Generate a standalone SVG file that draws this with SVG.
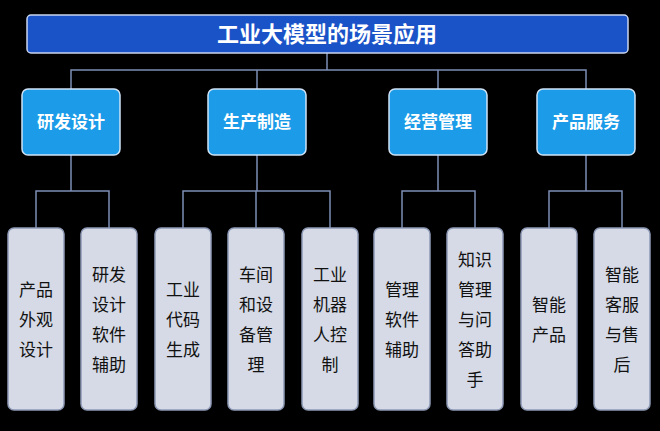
<svg xmlns="http://www.w3.org/2000/svg" width="660" height="431" viewBox="0 0 660 431">
<style>
text{font-family:"Noto Sans CJK SC","Liberation Sans",sans-serif;text-anchor:middle}
.mid rect{fill:#1b9be8;stroke:#cfe3f7;stroke-width:1.5}
.mid text{fill:#fff;font-size:17px;font-weight:bold}
.leaf rect{fill:#d5dae6;stroke:#8d99b5;stroke-width:1.5}
.leaf text{fill:#111;font-size:17px}
#conn path{fill:none;stroke:#7d8fb5;stroke-width:1.5}
</style>
<rect width="660" height="431" fill="#000"/>
<g id="conn">
<path d="M327 53V70M71 89V70H586V89M257 70V89M438 70V89"/>
<path d="M71 155V191M36 228V191H109V228"/>
<path d="M257 155V191M183 228V191H330V228M256 191V228"/>
<path d="M438 155V191M402 228V191H475V228"/>
<path d="M586 155V191M549 228V191H622V228"/>
</g>
<g id="title"><rect x="27" y="15" width="601" height="38" rx="4" fill="#1a52c8" stroke="#c9d6ee" stroke-width="1.5"/>
<text x="327" y="42" fill="#fff" font-size="22" font-weight="bold">工业大模型的场景应用</text></g>
<g id="m1" class="mid"><rect x="22" y="89" width="98" height="66" rx="6"/><text x="71" y="128">研发设计</text></g>
<g id="m2" class="mid"><rect x="208" y="89" width="98" height="66" rx="6"/><text x="257" y="128">生产制造</text></g>
<g id="m3" class="mid"><rect x="389" y="89" width="98" height="66" rx="6"/><text x="438" y="128">经营管理</text></g>
<g id="m4" class="mid"><rect x="537" y="89" width="98" height="66" rx="6"/><text x="586" y="128">产品服务</text></g>
<g id="l1" class="leaf"><rect x="8" y="228" width="56" height="182" rx="6"/><text x="36" y="296">产品</text><text x="36" y="326">外观</text><text x="36" y="356">设计</text></g>
<g id="l2" class="leaf"><rect x="81" y="228" width="56" height="182" rx="6"/><text x="109" y="281">研发</text><text x="109" y="311">设计</text><text x="109" y="341">软件</text><text x="109" y="371">辅助</text></g>
<g id="l3" class="leaf"><rect x="155" y="228" width="56" height="182" rx="6"/><text x="183" y="296">工业</text><text x="183" y="326">代码</text><text x="183" y="356">生成</text></g>
<g id="l4" class="leaf"><rect x="228" y="228" width="56" height="182" rx="6"/><text x="256" y="281">车间</text><text x="256" y="311">和设</text><text x="256" y="341">备管</text><text x="256" y="371">理</text></g>
<g id="l5" class="leaf"><rect x="302" y="228" width="56" height="182" rx="6"/><text x="330" y="281">工业</text><text x="330" y="311">机器</text><text x="330" y="341">人控</text><text x="330" y="371">制</text></g>
<g id="l6" class="leaf"><rect x="374" y="228" width="56" height="182" rx="6"/><text x="402" y="296">管理</text><text x="402" y="326">软件</text><text x="402" y="356">辅助</text></g>
<g id="l7" class="leaf"><rect x="447" y="228" width="56" height="182" rx="6"/><text x="475" y="266">知识</text><text x="475" y="296">管理</text><text x="475" y="326">与问</text><text x="475" y="356">答助</text><text x="475" y="386">手</text></g>
<g id="l8" class="leaf"><rect x="521" y="228" width="56" height="182" rx="6"/><text x="549" y="311">智能</text><text x="549" y="341">产品</text></g>
<g id="l9" class="leaf"><rect x="594" y="228" width="56" height="182" rx="6"/><text x="622" y="281">智能</text><text x="622" y="311">客服</text><text x="622" y="341">与售</text><text x="622" y="371">后</text></g>
</svg>
